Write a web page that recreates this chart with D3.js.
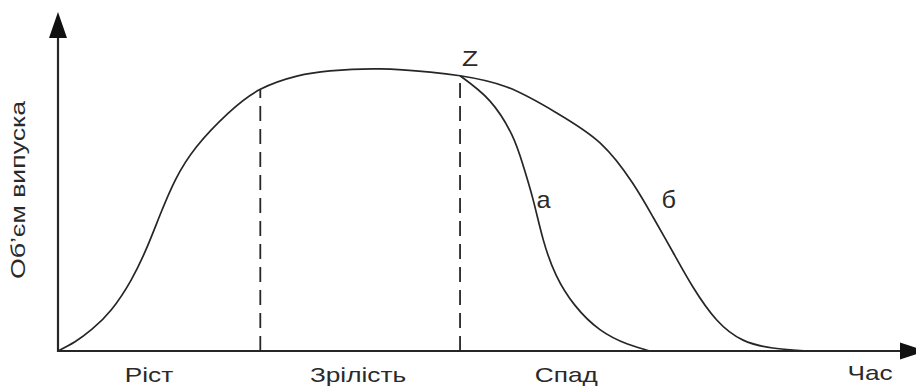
<!DOCTYPE html>
<html>
<head>
<meta charset="utf-8">
<script src="https://cdn.jsdelivr.net/npm/d3@7"></script>
<style>
  html, body { margin: 0; padding: 0; background: #fff; }
  svg { display: block; font-family: "Liberation Sans", Arial, sans-serif; }
</style>
</head>
<body>
<svg id="chart" width="916" height="388"></svg>
<script>
// Product life cycle: growth, maturity and two possible decline paths
const mainTime   = [0, 2.0, 4.0, 6.3, 8.6, 10.4, 12.0, 13.8, 16.3, 20.0, 23.8, 28.1, 32.0, 37.9, 43.8, 47.3,
                    52.8, 58.7, 63.8, 67.6, 70.0, 72.4, 74.7, 77.5, 80.6, 84.1, 88.2];
const mainVolume = [0, 2.8, 6.6, 12.6, 21.5, 31.0, 41.2, 51.8, 61.9, 72.0, 79.3, 83.3, 84.9, 85.5, 84.5, 83.4,
                    80.0, 72.1, 63.0, 50.9, 40.6, 29.7, 19.4, 9.4, 3.3, 0.9, 0];
const fastTime   = [47.3, 50.8, 53.4, 54.7, 55.9, 57.1, 58.6, 60.8, 63.8, 67.0, 69.6];
const fastVolume = [83.4, 75.8, 65.5, 56.4, 45.8, 33.6, 23.0, 13.9, 6.4, 2.1, 0];

const phaseBounds = [23.8, 47.3];
const phaseBoundVolume = [79.3, 83.4];
const phaseNames = ["Ріст", "Зрілість", "Спад"];
const phaseLabelTime = [10.7, 35.3, 59.8];
const curveNames = ["а", "б"];
const curveLabelTime = [56.3, 71.0];
const curveLabelVolume = [43.3, 43.3];
const peakName = "Z";
const xTitle = "Час";
const yTitle = "Об\u2019єм випуска";

const svg = d3.select("#chart");
const ink = "#262626";

const x = d3.scaleLinear().domain([0, 100]).range([58, 908]);
const y = d3.scaleLinear().domain([0, 100]).range([351, 21]);

// Axes with arrowheads
const x0 = x(0), y0 = y(0);
svg.append("line").attr("x1", x0).attr("y1", y0).attr("x2", 902).attr("y2", y0)
  .attr("stroke", ink).attr("stroke-width", 2.2);
svg.append("line").attr("x1", x0).attr("y1", y0 + 1).attr("x2", x0).attr("y2", 34)
  .attr("stroke", ink).attr("stroke-width", 2.2);
svg.append("path").attr("d", `M${x0},12 L${x0 - 9},38 L${x0 + 9},38 Z`).attr("fill", "#111");
svg.append("path").attr("d", `M926,${y0} L900,${y0 - 8.5} L900,${y0 + 8.5} Z`).attr("fill", "#111");

// Phase boundaries
phaseBounds.forEach((t, i) => {
  svg.append("line")
    .attr("x1", x(t)).attr("x2", x(t))
    .attr("y1", y(0)).attr("y2", y(phaseBoundVolume[i]))
    .attr("stroke", ink).attr("stroke-width", 1.8)
    .attr("stroke-dasharray", "15,8");
});

const line = d3.line().x(d => x(d[0])).y(d => y(d[1])).curve(d3.curveNatural);

svg.append("path")
  .attr("d", line(d3.zip(mainTime, mainVolume)))
  .attr("fill", "none").attr("stroke", ink).attr("stroke-width", 1.7);
svg.append("path")
  .attr("d", line(d3.zip(fastTime, fastVolume)))
  .attr("fill", "none").attr("stroke", ink).attr("stroke-width", 1.7);

// Wide text helper
function label(txt, px, py, size, anchor, sx, rot) {
  svg.append("text")
    .attr("transform", `translate(${px},${py}) rotate(${rot || 0}) scale(${sx},1)`)
    .attr("text-anchor", anchor)
    .attr("font-size", size)
    .attr("fill", "#2a2a2a")
    .text(txt);
}

phaseNames.forEach((n, i) => label(n, x(phaseLabelTime[i]), 382, 21, "middle", 1.25));
label(xTitle, 870, 380, 21, "middle", 1.25);
label(yTitle, 25, 190, 21, "middle", 1.27, -90);
label(peakName, x(mainTime[15]) + 2, 66, 22, "start", 1.2);
curveNames.forEach((n, i) => label(n, x(curveLabelTime[i]), y(curveLabelVolume[i]), 23, "start", 1.1));
</script>
</body>
</html>
